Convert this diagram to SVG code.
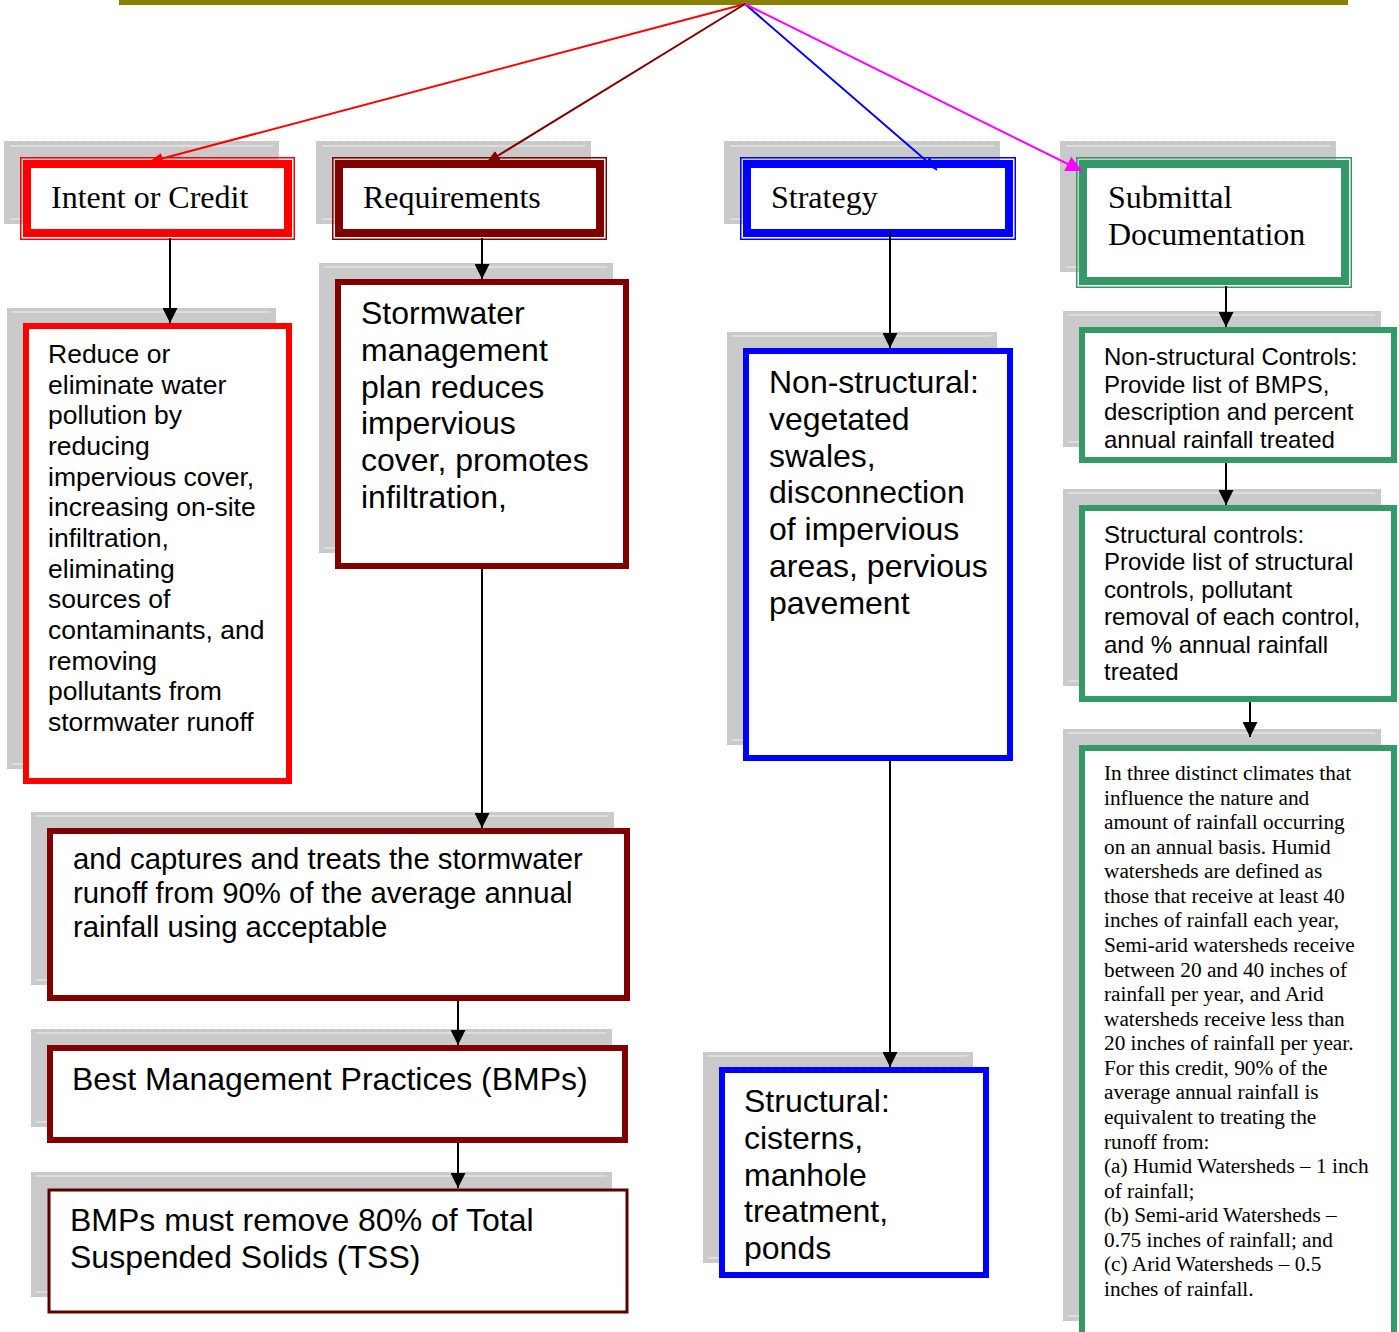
<svg xmlns="http://www.w3.org/2000/svg" width="1399" height="1332" viewBox="0 0 1399 1332">
  <style>
    .sh { fill: url(#dither); }
    .shl { stroke: #e4e4e4; stroke-width: 1.5; fill: none; }
    .box { fill: #ffffff; stroke-width: 6; }
    .thin { fill: none; stroke-width: 1.5; }
    .thick { fill: #ffffff; stroke-width: 8; }
    .red { stroke: #ff0000; }
    .dred { stroke: #800000; }
    .blue { stroke: #0000ff; }
    .green { stroke: #339966; }
    .hd { font-family: "Liberation Serif", "Times New Roman", serif; font-size: 32px; fill: #000; }
    .s32 { font-family: "Liberation Sans", Arial, sans-serif; font-size: 32px; fill: #000; }
    .s29 { font-family: "Liberation Sans", Arial, sans-serif; font-size: 29.3px; fill: #000; }
    .s26 { font-family: "Liberation Sans", Arial, sans-serif; font-size: 26.5px; fill: #000; }
    .s24 { font-family: "Liberation Sans", Arial, sans-serif; font-size: 24px; fill: #000; }
    .t21 { font-family: "Liberation Serif", "Times New Roman", serif; font-size: 21.3px; fill: #000; }
    .conn { fill: none; stroke-width: 2; }
  </style>
  <defs>
    <pattern id="dither" width="2" height="2" patternUnits="userSpaceOnUse">
      <rect width="2" height="2" fill="#c3c3c3"/>
      <rect width="1" height="1" fill="#d0d0d0"/>
      <rect x="1" y="1" width="1" height="1" fill="#d0d0d0"/>
    </pattern>
    <marker id="ahBlack" markerUnits="userSpaceOnUse" markerWidth="15" markerHeight="15" refX="15" refY="7.5" orient="auto">
      <path d="M0,0 L15,7.5 L0,15 Z" fill="#000"/>
    </marker>
    <marker id="ahRed" markerUnits="userSpaceOnUse" markerWidth="14" markerHeight="11" refX="14" refY="5.5" orient="auto">
      <path d="M0,0 L14,5.5 L0,11 Z" fill="#ff0000"/>
    </marker>
    <marker id="ahDred" markerUnits="userSpaceOnUse" markerWidth="14" markerHeight="11" refX="14" refY="5.5" orient="auto">
      <path d="M0,0 L14,5.5 L0,11 Z" fill="#800000"/>
    </marker>
    <marker id="ahBlue" markerUnits="userSpaceOnUse" markerWidth="14" markerHeight="10" refX="14" refY="5" orient="auto">
      <path d="M0,0 L14,5 L0,10 Z" fill="#0000ff"/>
    </marker>
    <marker id="ahMag" markerUnits="userSpaceOnUse" markerWidth="16" markerHeight="16" refX="16" refY="8" orient="auto">
      <path d="M0,0 L16,8 L0,16 Z" fill="#ff00ff"/>
    </marker>
    <clipPath id="clipH">
      <rect x="1085" y="333" width="306" height="115"/>
    </clipPath>
    <clipPath id="clipJ">
      <rect x="1085" y="751" width="306" height="590"/>
    </clipPath>
  </defs>

  <!-- title box, only its lower edge shows -->
  <g id="title">
    <rect x="121.5" y="-20" width="1224" height="22.5" fill="none" stroke="#878000" stroke-width="5"/>
  </g>

  <!-- column headers -->
  <g id="intent">
    <rect class="sh" x="4" y="141" width="275" height="83"/>
    <path class="shl" d="M10,146 H273 M10,219 H273"/>
    <rect class="thin red" x="20.75" y="157.75" width="273.5" height="81.5"/>
    <rect class="thick red" x="27" y="164" width="261" height="69"/>
    <text class="hd" x="51" y="208">Intent or Credit</text>
  </g>
  <g id="requirements">
    <rect class="sh" x="316" y="141" width="275" height="83"/>
    <path class="shl" d="M322,146 H585 M322,219 H585"/>
    <rect class="thin dred" x="332.75" y="157.75" width="273.5" height="81.5"/>
    <rect class="thick dred" x="339" y="164" width="261" height="69"/>
    <text class="hd" x="363" y="208">Requirements</text>
  </g>
  <g id="strategy">
    <rect class="sh" x="724" y="141" width="276" height="83"/>
    <path class="shl" d="M730,146 H994 M730,219 H994"/>
    <rect class="thin blue" x="740.75" y="157.75" width="274.5" height="81.5"/>
    <rect class="thick blue" x="747" y="164" width="262" height="69"/>
    <text class="hd" x="771" y="208">Strategy</text>
  </g>
  <g id="submittal">
    <rect class="sh" x="1060" y="141" width="276" height="131"/>
    <path class="shl" d="M1066,146 H1330 M1066,267 H1330"/>
    <rect class="thin green" x="1076.75" y="157.75" width="274.5" height="129.5"/>
    <rect class="thick green" x="1083" y="164" width="262" height="117"/>
    <text class="hd"><tspan x="1108" y="208">Submittal</tspan><tspan x="1108" y="245">Documentation</tspan></text>
  </g>

  <!-- intent column -->
  <g id="intent-text">
    <rect class="sh" x="7" y="308" width="269" height="461"/>
    <path class="shl" d="M12,312 H270 M12,764 H270"/>
    <rect class="box red" x="26" y="326" width="263" height="455"/>
    <text class="s26">
      <tspan x="48" y="363">Reduce or</tspan>
      <tspan x="48" y="393.7">eliminate water</tspan>
      <tspan x="48" y="424.3">pollution by</tspan>
      <tspan x="48" y="455">reducing</tspan>
      <tspan x="48" y="485.7">impervious cover,</tspan>
      <tspan x="48" y="516.3">increasing on-site</tspan>
      <tspan x="48" y="547">infiltration,</tspan>
      <tspan x="48" y="577.7">eliminating</tspan>
      <tspan x="48" y="608.3">sources of</tspan>
      <tspan x="48" y="639">contaminants, and</tspan>
      <tspan x="48" y="669.7">removing</tspan>
      <tspan x="48" y="700.3">pollutants from</tspan>
      <tspan x="48" y="731">stormwater runoff</tspan>
    </text>
  </g>

  <!-- requirements column -->
  <g id="req-plan">
    <rect class="sh" x="319" y="263" width="294" height="290"/>
    <path class="shl" d="M324,267 H607 M324,548 H607"/>
    <rect class="box dred" x="338" y="282" width="288" height="284"/>
    <text class="s32">
      <tspan x="361" y="324">Stormwater</tspan>
      <tspan x="361" y="360.8">management</tspan>
      <tspan x="361" y="397.6">plan reduces</tspan>
      <tspan x="361" y="434.4">impervious</tspan>
      <tspan x="361" y="471.2">cover, promotes</tspan>
      <tspan x="361" y="508">infiltration,</tspan>
    </text>
  </g>
  <g id="req-capture">
    <rect class="sh" x="31" y="812" width="583" height="173"/>
    <path class="shl" d="M36,816 H608 M36,980 H608"/>
    <rect class="box dred" x="50" y="831" width="577" height="167"/>
    <text class="s29">
      <tspan x="73" y="869">and captures and treats the stormwater</tspan>
      <tspan x="73" y="903">runoff from 90% of the average annual</tspan>
      <tspan x="73" y="937">rainfall using acceptable</tspan>
    </text>
  </g>
  <g id="req-bmp">
    <rect class="sh" x="31" y="1029" width="581" height="98"/>
    <path class="shl" d="M36,1033 H606 M36,1122 H606"/>
    <rect class="box dred" x="50" y="1048" width="575" height="92"/>
    <text class="s32" x="72" y="1090">Best Management Practices (BMPs)</text>
  </g>
  <g id="req-tss">
    <rect class="sh" x="31" y="1172" width="581" height="125"/>
    <path class="shl" d="M36,1176 H606 M36,1292 H606"/>
    <rect x="49" y="1190" width="578" height="122" fill="#ffffff" stroke="#5a0000" stroke-width="3"/>
    <text class="s32">
      <tspan x="70" y="1231">BMPs must remove 80% of Total</tspan>
      <tspan x="70" y="1268">Suspended Solids (TSS)</tspan>
    </text>
  </g>

  <!-- strategy column -->
  <g id="strat-nonstructural">
    <rect class="sh" x="727" y="332" width="270" height="413"/>
    <path class="shl" d="M732,336 H991 M732,740 H991"/>
    <rect class="box blue" x="746" y="351" width="264" height="407"/>
    <text class="s32">
      <tspan x="769" y="393">Non-structural:</tspan>
      <tspan x="769" y="429.8">vegetated</tspan>
      <tspan x="769" y="466.6">swales,</tspan>
      <tspan x="769" y="503.4">disconnection</tspan>
      <tspan x="769" y="540.2">of impervious</tspan>
      <tspan x="769" y="577">areas, pervious</tspan>
      <tspan x="769" y="613.8">pavement</tspan>
    </text>
  </g>
  <g id="strat-structural">
    <rect class="sh" x="703" y="1052" width="270" height="211"/>
    <path class="shl" d="M708,1056 H967 M708,1258 H967"/>
    <rect class="box blue" x="722" y="1070" width="264" height="205"/>
    <text class="s32">
      <tspan x="744" y="1112">Structural:</tspan>
      <tspan x="744" y="1148.8">cisterns,</tspan>
      <tspan x="744" y="1185.6">manhole</tspan>
      <tspan x="744" y="1222.4">treatment,</tspan>
      <tspan x="744" y="1259.2">ponds</tspan>
    </text>
  </g>

  <!-- submittal column -->
  <g id="sub-nonstructural">
    <rect class="sh" x="1063" y="311" width="318" height="136"/>
    <path class="shl" d="M1068,315 H1375 M1068,442 H1375"/>
    <rect class="box green" x="1082" y="330" width="312" height="130"/>
    <text class="s24" clip-path="url(#clipH)">
      <tspan x="1104" y="365">Non-structural Controls:</tspan>
      <tspan x="1104" y="392.5">Provide list of BMPS,</tspan>
      <tspan x="1104" y="420">description and percent</tspan>
      <tspan x="1104" y="447.5">annual rainfall treated</tspan>
    </text>
  </g>
  <g id="sub-structural">
    <rect class="sh" x="1063" y="489" width="318" height="197"/>
    <path class="shl" d="M1068,493 H1375 M1068,681 H1375"/>
    <rect class="box green" x="1082" y="508" width="312" height="191"/>
    <text class="s24">
      <tspan x="1104" y="543">Structural controls:</tspan>
      <tspan x="1104" y="570.4">Provide list of structural</tspan>
      <tspan x="1104" y="597.8">controls, pollutant</tspan>
      <tspan x="1104" y="625.2">removal of each control,</tspan>
      <tspan x="1104" y="652.6">and % annual rainfall</tspan>
      <tspan x="1104" y="680">treated</tspan>
    </text>
  </g>
  <g id="sub-climates">
    <rect class="sh" x="1063" y="729" width="318" height="592"/>
    <path class="shl" d="M1068,733 H1375 M1068,1316 H1375"/>
    <rect class="box green" x="1082" y="748" width="312" height="600"/>
    <text class="t21" clip-path="url(#clipJ)">
      <tspan x="1104" y="780">In three distinct climates that</tspan>
      <tspan x="1104" y="804.6">influence the nature and</tspan>
      <tspan x="1104" y="829.1">amount of rainfall occurring</tspan>
      <tspan x="1104" y="853.7">on an annual basis. Humid</tspan>
      <tspan x="1104" y="878.3">watersheds are defined as</tspan>
      <tspan x="1104" y="902.9">those that receive at least 40</tspan>
      <tspan x="1104" y="927.4">inches of rainfall each year,</tspan>
      <tspan x="1104" y="952">Semi-arid watersheds receive</tspan>
      <tspan x="1104" y="976.6">between 20 and 40 inches of</tspan>
      <tspan x="1104" y="1001.1">rainfall per year, and Arid</tspan>
      <tspan x="1104" y="1025.7">watersheds receive less than</tspan>
      <tspan x="1104" y="1050.3">20 inches of rainfall per year.</tspan>
      <tspan x="1104" y="1074.8">For this credit, 90% of the</tspan>
      <tspan x="1104" y="1099.4">average annual rainfall is</tspan>
      <tspan x="1104" y="1124">equivalent to treating the</tspan>
      <tspan x="1104" y="1148.6">runoff from:</tspan>
      <tspan x="1104" y="1173.1">(a) Humid Watersheds – 1 inch</tspan>
      <tspan x="1104" y="1197.7">of rainfall;</tspan>
      <tspan x="1104" y="1222.3">(b) Semi-arid Watersheds –</tspan>
      <tspan x="1104" y="1246.8">0.75 inches of rainfall; and</tspan>
      <tspan x="1104" y="1271.4">(c) Arid Watersheds – 0.5</tspan>
      <tspan x="1104" y="1296">inches of rainfall.</tspan>
    </text>
  </g>

  <!-- connectors -->
  <g id="connectors">
    <path class="conn" stroke="#ff0000" stroke-width="1.7" d="M745,4 L149,162" marker-end="url(#ahRed)"/>
    <path class="conn" stroke="#800000" stroke-width="1.7" d="M745,4 L486,163" marker-end="url(#ahDred)"/>
    <path class="conn" stroke="#0000ff" stroke-width="1.7" d="M745,4 L937,170" marker-end="url(#ahBlue)"/>
    <path class="conn" stroke="#ff00ff" stroke-width="1.7" d="M745,4 L1082,171" marker-end="url(#ahMag)"/>
    <g stroke="#000000">
      <path class="conn" d="M170,238 V323" marker-end="url(#ahBlack)"/>
      <path class="conn" d="M482,238 V279" marker-end="url(#ahBlack)"/>
      <path class="conn" d="M890,232 V348" marker-end="url(#ahBlack)"/>
      <path class="conn" d="M1226,286 V327" marker-end="url(#ahBlack)"/>
      <path class="conn" d="M482,569 V828" marker-end="url(#ahBlack)"/>
      <path class="conn" d="M890,761 V1067" marker-end="url(#ahBlack)"/>
      <path class="conn" d="M1226,463 V505" marker-end="url(#ahBlack)"/>
      <path class="conn" d="M458,1001 V1045" marker-end="url(#ahBlack)"/>
      <path class="conn" d="M458,1143 V1188" marker-end="url(#ahBlack)"/>
      <path class="conn" d="M1250,702 V737" marker-end="url(#ahBlack)"/>
    </g>
  </g>
</svg>
